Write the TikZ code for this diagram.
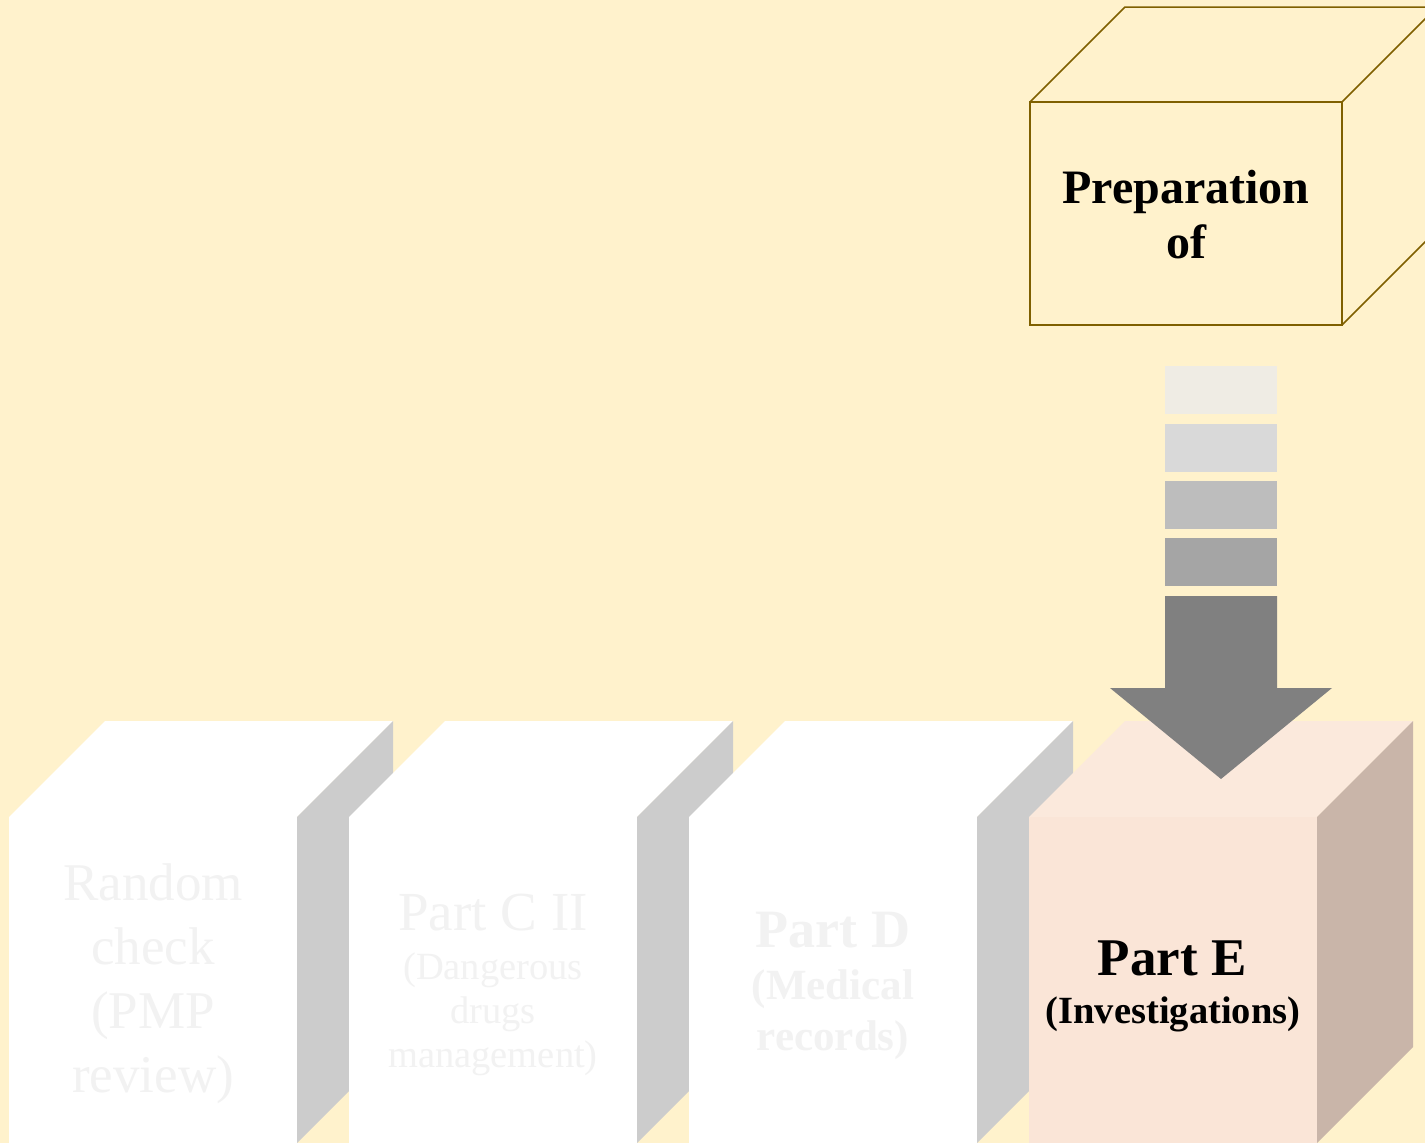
\documentclass[tikz,border=0pt]{standalone}
\usepackage{fontspec}
\setmainfont{Liberation Serif}

\definecolor{bgYellow}{HTML}{FFF2CC}
\definecolor{cubeEdge}{HTML}{7F6000}
\definecolor{sideGray}{HTML}{CCCCCC}
\definecolor{faintText}{HTML}{F2F2F2}
\definecolor{peachFront}{HTML}{FAE5D7}
\definecolor{peachTop}{HTML}{FBE9DC}
\definecolor{peachSide}{HTML}{C9B5A9}
\definecolor{barOne}{HTML}{EFECE4}
\definecolor{barTwo}{HTML}{D9D9D9}
\definecolor{barThree}{HTML}{BDBDBD}
\definecolor{barFour}{HTML}{A5A5A5}
\definecolor{arrowGray}{HTML}{808080}

\begin{document}
\begin{tikzpicture}[
    x=1pt, y=-1pt,
    cubeline/.style={draw=cubeEdge, line width=1.5pt},
    bigtext/.style={align=center, inner sep=0pt},
    fadedtext/.style={bigtext, text=faintText}
]

% Background
\fill[bgYellow] (0,0) rectangle (1425,1143);
\useasboundingbox (0,0) rectangle (1425,1143);
\clip (0,0) rectangle (1425,1143);

% Top cube (outline only)
\draw[cubeline] (1030,102) rectangle (1342,325);
\draw[cubeline] (1030,102) -- (1125,7) -- (1437,7) -- (1342,102);
\draw[cubeline] (1342,325) -- (1437,230);
\node[bigtext, font=\fontsize{48}{55}\selectfont\bfseries] (prep) at (1186,215) {Preparation\\of};

% Box 1: Random check
\fill[white] (9,817) rectangle (297,1143);
\fill[white] (9,817) -- (105,721) -- (393,721) -- (297,817) -- cycle;
\fill[sideGray] (297,817) -- (393,721) -- (393,1047) -- (297,1143) -- cycle;
\node[fadedtext, font=\fontsize{53}{64}\selectfont] (random) at (153,984) {Random\\check\\(PMP\\review)};

% Box 2: Part C II
\fill[white] (349,817) rectangle (637,1143);
\fill[white] (349,817) -- (445,721) -- (733,721) -- (637,817) -- cycle;
\fill[sideGray] (637,817) -- (733,721) -- (733,1047) -- (637,1143) -- cycle;
\node[fadedtext, font=\fontsize{55}{60}\selectfont, anchor=base] (partc) at (493,930) {Part C II};
\node[fadedtext, font=\fontsize{38.5}{44}\selectfont] (partcsub) at (493,1014) {(Dangerous\\drugs\\management)};

% Box 3: Part D
\fill[white] (689,817) rectangle (977,1143);
\fill[white] (689,817) -- (785,721) -- (1073,721) -- (977,817) -- cycle;
\fill[sideGray] (977,817) -- (1073,721) -- (1073,1047) -- (977,1143) -- cycle;
\node[fadedtext, font=\fontsize{54}{60}\selectfont\bfseries, anchor=base] (partd) at (833,947) {Part D};
\node[fadedtext, font=\fontsize{43}{51}\selectfont\bfseries] (partdsub) at (833,1015) {(Medical\\records)};

% Box 4: Part E (highlighted)
\fill[peachFront] (1029,817) rectangle (1317,1143);
\fill[peachTop] (1029,817) -- (1125,721) -- (1413,721) -- (1317,817) -- cycle;
\fill[peachSide] (1317,817) -- (1413,721) -- (1413,1047) -- (1317,1143) -- cycle;
\node[bigtext, font=\fontsize{53}{60}\selectfont\bfseries, anchor=base] (parte) at (1172,975) {Part E};
\node[bigtext, font=\fontsize{38.5}{44}\selectfont\bfseries, anchor=base] (partesub) at (1173,1023) {(Investigations)};

% Striped arrow down to Part E
\fill[barOne] (1165,366) rectangle (1277,414);
\fill[barTwo] (1165,424) rectangle (1277,472);
\fill[barThree] (1165,481) rectangle (1277,529);
\fill[barFour] (1165,538) rectangle (1277,586);
\fill[arrowGray] (1165,596) -- (1277,596) -- (1277,688) -- (1332,688) -- (1221,779) -- (1110,688) -- (1165,688) -- cycle;

\end{tikzpicture}
\end{document}
